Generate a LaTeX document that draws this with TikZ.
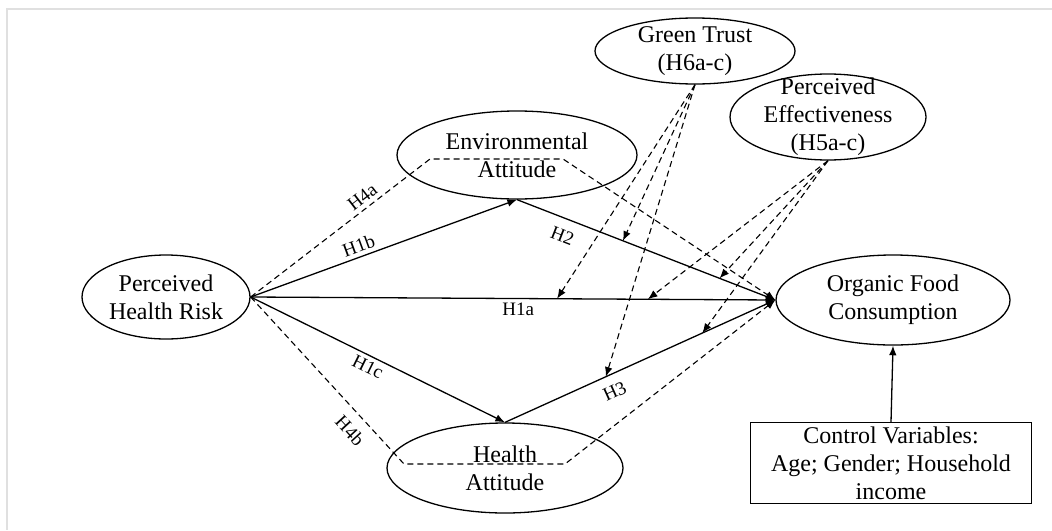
\documentclass[tikz,border=0pt]{standalone}
\usepackage{fontspec}
\setmainfont{Liberation Serif}
\usetikzlibrary{arrows.meta,shapes.geometric,calc}

\begin{document}
\begin{tikzpicture}[x=0.5pt,y=-0.5pt,>={Latex[length=4.8pt,width=3.8pt]},every node/.append style={align=center},lv/.style={draw, ellipse, inner sep=0pt, line width=0.65pt, font=\fontsize{12}{14}\selectfont},ctrl/.style={draw, rectangle, inner sep=0pt, line width=0.65pt, font=\fontsize{12}{14}\selectfont},hyp/.style={font=\fontsize{9.5}{11}\selectfont, inner sep=2pt},path/.style={->, line width=0.65pt},mod/.style={->, dashed, dash pattern=on 3pt off 2pt, line width=0.55pt},]
    \useasboundingbox (0,0) rectangle (1052,530);
    \draw[black!12, line width=0.8pt] (7,530) -- (7,9) -- (1052,9);
    \node [lv, minimum width=84pt, minimum height=42pt] (PHR) at (166,297) {Perceived\\Health Risk};
    \node [lv, minimum width=120pt, minimum height=44pt] (EA) at (517,155) {Environmental\\Attitude};
    \node [lv, minimum width=118pt, minimum height=45pt] (HA) at (505,468) {Health\\Attitude};
    \node [lv, minimum width=100pt, minimum height=33pt, inner ysep=-3pt] (GT) at (695,51) {Green Trust\\(H6a-c)};
    \node [lv, minimum width=98pt, minimum height=43pt, inner ysep=-6pt] (PE) at (828,117) {Perceived\\Effectiveness\\(H5a-c)};
    \node [lv, minimum width=117pt, minimum height=45pt] (OFC) at (893,300) {Organic Food\\Consumption};
    \node [ctrl, minimum width=140.5pt, minimum height=40.5pt] (CV) at (891,463) {Control Variables:\\Age; Gender; Household\\income};
    \path[path] (PHR.east) edge node [hyp, sloped, above, pos=0.42] {H1b} (EA.south);
    \path[path] (PHR.east) edge node [hyp, below, pos=0.51] {H1a} (OFC.west);
    \path[path] (PHR.east) edge node [hyp, sloped, below, pos=0.48] {H1c} (HA.north);
    \path[path] (EA.south) edge node [hyp, sloped, below=3pt, pos=0.2] {H2} (OFC.west);
    \path[path] (HA.north) edge node [hyp, sloped, below=3pt, pos=0.38] {H3} (OFC.west);
    \path[path] (CV.north) edge (OFC.south);
    \coordinate (EAin1) at (430,159);
    \coordinate (EAin2) at (563,159);
    \coordinate (HAin1) at (404,464);
    \coordinate (HAin2) at (565,464);
    \draw[mod] (PHR.east) -- node [hyp, sloped, above, pos=0.66] {H4a} (EAin1) -- (EAin2) -- (OFC.west);
    \draw[mod] (PHR.east) -- node [hyp, sloped, below=3pt, pos=0.73] {H4b} (HAin1) -- (HAin2) -- (OFC.west);
    \coordinate (onH1a1) at ($(PHR.east)!0.584!(OFC.west)$);
    \coordinate (onH1a2) at ($(PHR.east)!0.757!(OFC.west)$);
    \coordinate (onH21) at ($(EA.south)!0.41!(OFC.west)$);
    \coordinate (onH22) at ($(EA.south)!0.784!(OFC.west)$);
    \coordinate (onH31) at ($(HA.north)!0.373!(OFC.west)$);
    \coordinate (onH32) at ($(HA.north)!0.73!(OFC.west)$);
    \path[mod] (GT.south) edge (onH1a1) edge (onH21) edge (onH31);
    \path[mod] (PE.south) edge (onH1a2) edge (onH22) edge (onH32);
\end{tikzpicture}
\end{document}
